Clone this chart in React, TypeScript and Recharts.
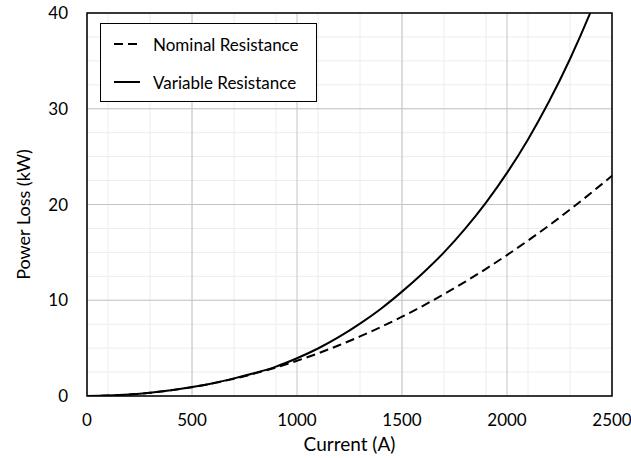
import * as React from 'react';
import { LineChart, Line, XAxis, YAxis, CartesianGrid, Legend, ReferenceArea, Label } from 'recharts';

// current in A, power loss in kW
const current = [0, 100, 200, 300, 400, 500, 600, 700, 800, 900, 1000, 1100, 1200, 1300, 1400, 1500, 1600, 1700, 1800, 1900, 2000, 2100, 2200, 2300, 2400, 2500];
const nominalLoss = [0, 0.04, 0.15, 0.33, 0.59, 0.92, 1.32, 1.8, 2.36, 2.98, 3.68, 4.45, 5.3, 6.22, 7.21, 8.28, 9.42, 10.64, 11.92, 13.28, 14.72, 16.23, 17.81, 19.47, 21.2, 23.0];
const variableLoss = [0, 0.04, 0.15, 0.33, 0.59, 0.93, 1.34, 1.84, 2.4, 3.07, 3.94, 4.96, 6.17, 7.56, 9.12, 10.9, 12.85, 15.0, 17.45, 20.2, 23.3, 26.8, 30.75, 35.2, 40.2, 45.8];

const xTicks = [0, 500, 1000, 1500, 2000, 2500];
const yTicks = [0, 10, 20, 30, 40];
const xMinor = [0, 100, 200, 300, 400, 500, 600, 700, 800, 900, 1000, 1100, 1200, 1300, 1400, 1500, 1600, 1700, 1800, 1900, 2000, 2100, 2200, 2300, 2400, 2500];
const yMinor = [0, 2.5, 5, 7.5, 10, 12.5, 15, 17.5, 20, 22.5, 25, 27.5, 30, 32.5, 35, 37.5, 40];

const series = [
  { key: 'nominal', name: 'Nominal Resistance', dash: '9 5' },
  { key: 'variable', name: 'Variable Resistance', dash: undefined as string | undefined },
];

const data = current.map((c, i) => ({ current: c, nominal: nominalLoss[i], variable: variableLoss[i] }));

const FONT = 'Lato, "Open Sans", sans-serif';

function LegendBox() {
  return (
    <div style={{ width: 217, height: 79, boxSizing: 'border-box', border: '1px solid #000', background: '#fff', paddingTop: 1 }}>
      {series.map(s => (
        <div key={s.key} style={{ display: 'flex', alignItems: 'center', height: 38, fontFamily: FONT, fontSize: 17, color: '#000' }}>
          <svg width={40} height={10} style={{ marginLeft: 12 }}>
            <line x1={1} y1={5} x2={27} y2={5} stroke="#000" strokeWidth={2} strokeDasharray={s.dash} />
          </svg>
          <span>{s.name}</span>
        </div>
      ))}
    </div>
  );
}

function YTitle(props: any) {
  const vb = props.viewBox || { x: 0, y: 0, width: 0, height: 0 };
  const x = vb.x + 23;
  const y = vb.y + vb.height / 2 + 10;
  return (
    <text x={x} y={y} transform={`rotate(-90, ${x}, ${y})`} textAnchor="middle" dominantBaseline="central"
      style={{ fontFamily: FONT, fontSize: 18, fill: '#000' }}>
      Power Loss (kW)
    </text>
  );
}

export default function App() {
  const tickStyle = { fontFamily: FONT, fontSize: 17, fill: '#000' };
  return (
    <div style={{ position: 'absolute', left: 0, top: 0, width: 631, height: 458, background: '#fff' }}>
      <LineChart width={631} height={458} data={data} margin={{ top: 13, right: 19, bottom: 0, left: 0 }}>
        <CartesianGrid stroke="#ececec" strokeWidth={1} horizontalValues={yMinor} verticalValues={xMinor} />
        <CartesianGrid stroke="#c4c4c4" strokeWidth={1} horizontalValues={yTicks} verticalValues={xTicks} />
        <XAxis dataKey="current" type="number" domain={[0, 2500]} ticks={xTicks} axisLine={false} tickLine={false}
          tickSize={0} tickMargin={18} height={62} tick={tickStyle}
          label={{ value: 'Current (A)', position: 'insideBottom', offset: 7, style: { fontFamily: FONT, fontSize: 19, fill: '#000' } }} />
        <YAxis type="number" domain={[0, 40]} ticks={yTicks} allowDataOverflow axisLine={false} tickLine={false}
          tickSize={0} tickMargin={19} width={87} tick={tickStyle}>
          <Label content={<YTitle />} />
        </YAxis>
        {series.map(s => (
          <Line key={s.key} dataKey={s.key} name={s.name} type="monotone" stroke="#000" strokeWidth={2}
            strokeDasharray={s.dash} dot={false} activeDot={false} isAnimationActive={false} />
        ))}
        <ReferenceArea x1={0} x2={2500} y1={0} y2={40} fill="none" fillOpacity={0} stroke="#000" strokeWidth={1.5} />
        <Legend layout="vertical" align="center" verticalAlign="middle" content={() => <LegendBox />}
          wrapperStyle={{ left: 100, top: 23, width: 217, height: 79 }} />
      </LineChart>
    </div>
  );
}
